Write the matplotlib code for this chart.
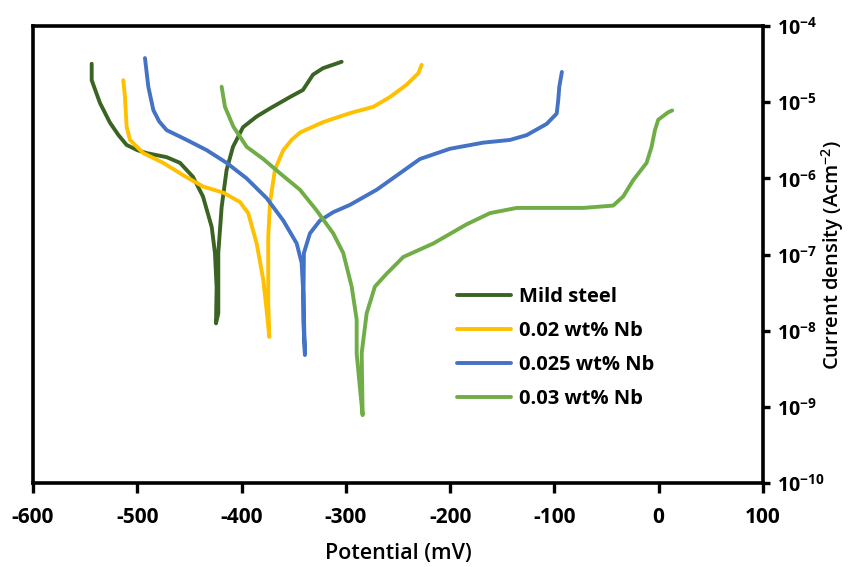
import numpy as np
import matplotlib
matplotlib.use("Agg")
import matplotlib.pyplot as plt

plt.rcParams['font.family'] = ['Open Sans', 'DejaVu Sans']
plt.rcParams['mathtext.fontset'] = 'custom'
plt.rcParams['mathtext.rm'] = 'Open Sans'
plt.rcParams['mathtext.bf'] = 'Open Sans:bold'

# Potential (mV) and current density (A/cm^2)
ms_E = [-543.7, -543.7, -535.8, -526.2, -518.0, -510.2, -500.0, -491.0, -471.8, -459.0,
        -446.6, -437.0, -428.6, -425.5, -423.9, -424.5, -422.3, -422.3, -419.1, -414.3,
        -408.2, -398.6, -385.5, -372.7, -353.6, -341.1, -331.5, -321.9, -304.0]
ms_I = [3.2e-5, 1.95e-5, 9.8e-6, 5.4e-6, 3.7e-6, 2.75e-6, 2.35e-6, 2.15e-6, 1.9e-6, 1.6e-6,
        1.05e-6, 5.8e-7, 2.3e-7, 1.05e-7, 3.7e-8, 1.25e-8, 1.7e-8, 1.05e-7, 4.2e-7, 1.3e-6,
        2.6e-6, 4.7e-6, 6.5e-6, 8.3e-6, 1.17e-5, 1.45e-5, 2.3e-5, 2.8e-5, 3.4e-5]

nb02_E = [-513.4, -511.8, -510.2, -507.0, -494.2, -475.1, -455.9, -436.7, -417.5, -401.5,
          -393.6, -385.5, -379.2, -375.9, -373.4, -374.4, -374.4, -372.7, -368.0, -360.0,
          -352.0, -344.0, -321.6, -296.0, -273.7, -257.7, -241.7, -230.5, -227.3]
nb02_I = [1.95e-5, 1.17e-5, 4.8e-6, 3.2e-6, 2.15e-6, 1.6e-6, 1.1e-6, 7.8e-7, 6.5e-7, 4.9e-7,
          3.5e-7, 1.4e-7, 4.7e-8, 1.85e-8, 8.3e-9, 2.3e-8, 1.7e-7, 4.8e-7, 1.3e-6, 2.35e-6,
          3.2e-6, 4.0e-6, 5.5e-6, 7.2e-6, 8.7e-6, 1.17e-5, 1.7e-5, 2.4e-5, 3.1e-5]

nb025_E = [-492.6, -489.4, -484.6, -479.0, -471.8, -462.0, -452.6, -433.4, -414.3, -395.1,
           -375.9, -360.0, -347.1, -342.4, -340.8, -339.2, -340.8, -340.2, -334.4, -324.8,
           -312.1, -296.0, -270.4, -248.1, -228.9, -200.2, -168.2, -142.6, -126.6, -107.4,
           -97.8, -96.3, -95.3, -92.8]
nb025_I = [3.8e-5, 1.6e-5, 7.9e-6, 5.6e-6, 4.3e-6, 3.7e-6, 3.2e-6, 2.35e-6, 1.6e-6, 1.0e-6,
           5.5e-7, 2.8e-7, 1.4e-7, 7.8e-8, 3.1e-8, 4.8e-9, 1.4e-8, 1.05e-7, 1.9e-7, 2.8e-7,
           3.6e-7, 4.5e-7, 7.1e-7, 1.17e-6, 1.8e-6, 2.45e-6, 2.95e-6, 3.2e-6, 3.7e-6, 5.2e-6,
           7.1e-6, 1.07e-5, 1.6e-5, 2.5e-5]

nb03_E = [-419.1, -415.9, -407.9, -395.1, -379.2, -363.2, -344.0, -328.0, -312.1, -302.5,
          -294.4, -289.6, -289.6, -286.5, -283.9, -284.8, -280.0, -272.1, -260.9, -244.9,
          -216.1, -184.1, -161.8, -136.2, -104.3, -72.3, -43.6, -34.0, -24.4, -11.6,
          -6.8, -3.6, -0.4, 9.2, 13.0]
nb03_I = [1.6e-5, 8.7e-6, 4.8e-6, 2.6e-6, 1.8e-6, 1.17e-6, 7.1e-7, 3.8e-7, 1.9e-7, 1.05e-7,
          3.8e-8, 1.4e-8, 5.0e-9, 1.8e-9, 7.8e-10, 5.1e-9, 1.7e-8, 3.8e-8, 5.6e-8, 9.3e-8,
          1.4e-7, 2.5e-7, 3.5e-7, 4.1e-7, 4.1e-7, 4.1e-7, 4.4e-7, 5.8e-7, 9.5e-7, 1.6e-6,
          2.6e-6, 4.3e-6, 5.9e-6, 7.4e-6, 7.8e-6]

labels = ['Mild steel', '0.02 wt% Nb', '0.025 wt% Nb', '0.03 wt% Nb']
colors = ['#3B6424', '#FFC000', '#4472C4', '#70AD47']

x_ticks = [-600, -500, -400, -300, -200, -100, 0, 100]
y_exps = [-10, -9, -8, -7, -6, -5, -4]

fig = plt.figure(figsize=(8.5, 5.67), dpi=100)
ax = fig.add_axes([0.0388, 0.148, 0.8588, 0.806])

for E, I, lab, c in zip([ms_E, nb02_E, nb025_E, nb03_E],
                        [ms_I, nb02_I, nb025_I, nb03_I], labels, colors):
    ax.plot(E, I, color=c, lw=2.8, label=lab, solid_capstyle='round', solid_joinstyle='round')

ax.set_yscale('log')
ax.set_xlim(-600, 100)
ax.set_ylim(1e-10, 1e-4)
ax.set_xticks(x_ticks)
ax.set_xticklabels([str(v) for v in x_ticks], fontsize=15, fontweight='bold')
ax.set_yticks([10.0 ** e for e in y_exps])
ax.set_yticklabels([r'$\mathbf{10^{%d}}$' % e for e in y_exps], fontsize=14)
ax.minorticks_off()
ax.yaxis.tick_right()
ax.yaxis.set_label_position('right')
ax.tick_params(axis='x', direction='out', length=7, width=2.4, pad=10)
ax.tick_params(axis='y', direction='out', length=5, width=2.4, pad=5)
for s in ax.spines.values():
    s.set_linewidth(2.6)

ax.set_xlabel('Potential (mV)', fontsize=15.5, fontweight='semibold', labelpad=11)
ax.set_ylabel(r'Current density (Acm$^{\mathregular{-2}}$)', fontsize=14.5,
              fontweight='semibold')
ax.yaxis.set_label_coords(1.077, 0.5)

leg = ax.legend(loc='center left', bbox_to_anchor=(0.581, 0.295), frameon=False,
                prop={'size': 14.5, 'weight': 'bold'}, handlelength=2.7,
                handletextpad=0.35, labelspacing=0.69, borderpad=0, borderaxespad=0)

fig.savefig('out.png', dpi=100)
